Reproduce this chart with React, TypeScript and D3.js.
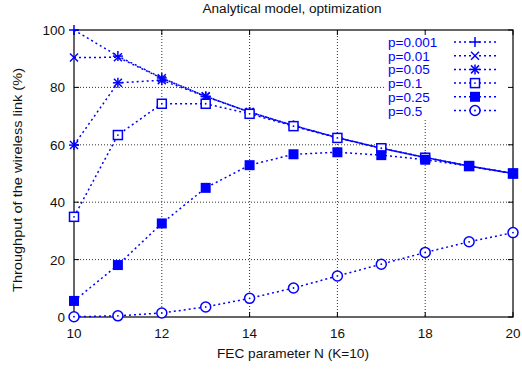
import React, { useEffect, useRef } from "react";
import * as d3 from "d3";

const N_VALUES = [10, 11, 12, 13, 14, 15, 16, 17, 18, 19, 20];
const X_TICKS = [10, 12, 14, 16, 18, 20];
const Y_TICKS = [0, 20, 40, 60, 80, 100];

const P_001 = [100, 90.9, 83.3, 76.9, 71.4, 66.7, 62.5, 58.8, 55.6, 52.6, 50.0];
const P_01 = [90.4, 90.5, 83.2, 76.9, 71.4, 66.7, 62.5, 58.8, 55.6, 52.6, 50.0];
const P_05 = [59.9, 81.6, 82.5, 76.8, 71.4, 66.7, 62.5, 58.8, 55.6, 52.6, 50.0];
const P_1 = [34.9, 63.4, 74.3, 74.3, 70.8, 66.5, 62.4, 58.8, 55.5, 52.6, 50.0];
const P_25 = [5.6, 18.1, 32.6, 45.0, 52.9, 56.7, 57.4, 56.4, 54.8, 52.6, 50.0];
const P_5 = [0.1, 0.4, 1.4, 3.5, 6.5, 10.1, 14.3, 18.4, 22.5, 26.2, 29.4];

const SERIES = [
  { label: "p=0.001", values: P_001, marker: "plus" },
  { label: "p=0.01", values: P_01, marker: "cross" },
  { label: "p=0.05", values: P_05, marker: "star" },
  { label: "p=0.1", values: P_1, marker: "square" },
  { label: "p=0.25", values: P_25, marker: "filledSquare" },
  { label: "p=0.5", values: P_5, marker: "circle" },
];

const BLUE = "#0000ff";
const FONT = "'Liberation Sans', Arial, Helvetica, sans-serif";

function drawMarker(g: d3.Selection<SVGGElement, unknown, null, undefined>, kind: string, x: number, y: number) {
  const s = 5;
  const m = g.append("g").attr("transform", `translate(${x},${y})`);
  const line = (x1: number, y1: number, x2: number, y2: number) =>
    m.append("line").attr("x1", x1).attr("y1", y1).attr("x2", x2).attr("y2", y2)
      .attr("stroke", BLUE).attr("stroke-width", 1.5);
  if (kind === "plus" || kind === "star") {
    line(-s, 0, s, 0);
    line(0, -s, 0, s);
  }
  if (kind === "cross" || kind === "star") {
    line(-s * 0.8, -s * 0.8, s * 0.8, s * 0.8);
    line(-s * 0.8, s * 0.8, s * 0.8, -s * 0.8);
  }
  if (kind === "square") {
    m.append("rect").attr("x", -4.5).attr("y", -4.5).attr("width", 9).attr("height", 9)
      .attr("fill", "white").attr("stroke", BLUE).attr("stroke-width", 1.5);
    m.append("circle").attr("r", 0.9).attr("fill", BLUE);
  }
  if (kind === "filledSquare") {
    m.append("rect").attr("x", -5).attr("y", -5).attr("width", 10).attr("height", 10)
      .attr("fill", BLUE);
  }
  if (kind === "circle") {
    m.append("circle").attr("r", 5).attr("fill", "white").attr("stroke", BLUE).attr("stroke-width", 1.5);
    m.append("circle").attr("r", 0.9).attr("fill", BLUE);
  }
}

export default function App() {
  const ref = useRef<SVGSVGElement>(null);

  useEffect(() => {
    const svg = d3.select(ref.current!);
    svg.selectAll("*").remove();

    const left = 74, right = 513, top = 30, bottom = 317;
    const x = d3.scaleLinear().domain([10, 20]).range([left, right]);
    const y = d3.scaleLinear().domain([0, 100]).range([bottom, top]);

    svg.append("rect").attr("width", 522).attr("height", 369).attr("fill", "white");

    // dotted grid
    const grid = svg.append("g").attr("stroke", "#333").attr("stroke-width", 1).attr("stroke-dasharray", "1 2");
    X_TICKS.slice(1, -1).forEach((t) => {
      grid.append("line").attr("x1", x(t)).attr("x2", x(t)).attr("y1", top).attr("y2", bottom);
    });
    Y_TICKS.slice(1, -1).forEach((t) => {
      grid.append("line").attr("x1", left).attr("x2", right).attr("y1", y(t)).attr("y2", y(t));
    });

    // legend background blanks the grid under it
    svg.append("rect").attr("x", 384).attr("y", 33).attr("width", 126).attr("height", 85).attr("fill", "white");

    // ticks on all four sides
    const ticks = svg.append("g").attr("stroke", "black").attr("stroke-width", 1);
    X_TICKS.forEach((t) => {
      ticks.append("line").attr("x1", x(t)).attr("x2", x(t)).attr("y1", bottom).attr("y2", bottom - 5);
      ticks.append("line").attr("x1", x(t)).attr("x2", x(t)).attr("y1", top).attr("y2", top + 5);
    });
    Y_TICKS.forEach((t) => {
      ticks.append("line").attr("x1", left).attr("x2", left + 5).attr("y1", y(t)).attr("y2", y(t));
      ticks.append("line").attr("x1", right).attr("x2", right - 5).attr("y1", y(t)).attr("y2", y(t));
    });

    svg.append("rect").attr("x", left).attr("y", top).attr("width", right - left).attr("height", bottom - top)
      .attr("fill", "none").attr("stroke", "black").attr("stroke-width", 1.2);

    const text = svg.append("g").attr("font-family", FONT).attr("font-size", 13.5).attr("fill", "#111");
    X_TICKS.forEach((t) => {
      text.append("text").attr("x", x(t)).attr("y", 338).attr("text-anchor", "middle").text(t);
    });
    Y_TICKS.forEach((t) => {
      text.append("text").attr("x", 65).attr("y", y(t) + 5).attr("text-anchor", "end").text(t);
    });
    text.append("text").attr("x", 293).attr("y", 358).attr("text-anchor", "middle")
      .attr("font-size", 13).attr("textLength", 152).attr("lengthAdjust", "spacingAndGlyphs")
      .text("FEC parameter N (K=10)");
    text.append("text").attr("x", 292).attr("y", 12.7).attr("text-anchor", "middle")
      .attr("font-size", 12).attr("textLength", 179).attr("lengthAdjust", "spacingAndGlyphs")
      .text("Analytical model, optimization");
    text.append("text").attr("transform", `translate(21.5,180) rotate(-90)`)
      .attr("text-anchor", "middle").attr("font-size", 13)
      .attr("textLength", 224).attr("lengthAdjust", "spacingAndGlyphs")
      .text("Throughput of the wireless link (%)");

    const lineGen = d3.line<number>().x((_, i) => x(N_VALUES[i])).y((v) => y(v));

    SERIES.forEach((s, k) => {
      const g = svg.append("g");
      g.append("path").attr("d", lineGen(s.values)).attr("fill", "none").attr("stroke", BLUE)
        .attr("stroke-width", 1.5).attr("stroke-dasharray", "2 3");
      s.values.forEach((v, i) => drawMarker(g, s.marker, x(N_VALUES[i]), y(v)));

      // legend entry
      const ly = 42 + k * 13.7;
      svg.append("text").attr("x", 388).attr("y", ly + 5).attr("font-family", FONT).attr("font-size", 13.5)
        .attr("fill", BLUE).text(s.label);
      const lg = svg.append("g");
      lg.append("line").attr("x1", 454).attr("x2", 496).attr("y1", ly).attr("y2", ly).attr("stroke", BLUE)
        .attr("stroke-width", 1.5).attr("stroke-dasharray", "2 3");
      drawMarker(lg, s.marker, 475, ly);
    });
  }, []);

  return (
    <svg ref={ref} width={522} height={369}
      style={{ position: "absolute", left: 0, top: 0, display: "block" }} />
  );
}
